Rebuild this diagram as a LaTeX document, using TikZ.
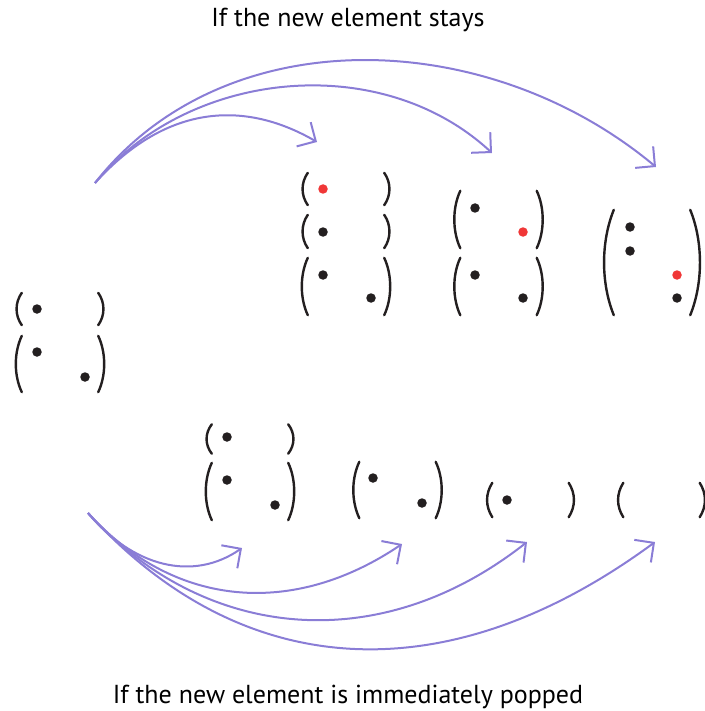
\documentclass[tikz,border=0pt]{standalone}
\usepackage{fontspec}
\setmainfont{PT Sans}
\usepackage{xcolor}
\usepackage{tikz}
\usetikzlibrary{positioning,arrows.meta}

\definecolor{ink}{RGB}{35,31,32}
\definecolor{pop}{RGB}{240,55,55}
\definecolor{arc}{RGB}{138,125,214}

\tikzset{
  paren/.style={draw=ink, line width=2.4pt, line cap=round},
  grp/.style={minimum width=76pt, minimum height=#1, inner sep=0pt},
  dot/.style={circle, fill=ink, inner sep=0pt, minimum size=9.5pt},
  newdot/.style={dot, fill=pop},
  move/.style={draw=arc, line width=2pt, -{Straight Barb[length=14pt,width=28pt]}},
  lbl/.style={anchor=base, inner sep=0pt, font=\fontsize{26}{30}\selectfont}
}

% both round brackets of one group: bulge, vertical pull
\newcommand{\brackets}[3]{%
  \draw[paren] (#1.north west) .. controls +(-#2,-#3) and +(-#2,#3) .. (#1.south west);
  \draw[paren] (#1.north east) .. controls +(#2,-#3) and +(#2,#3) .. (#1.south east);
}

\begin{document}
\begin{tikzpicture}[x=1pt,y=1pt]
    \useasboundingbox (0,0) rectangle (704,-711);

    \node[lbl] (stays) at (348,-27) {If the new element stays};
    \node[lbl] (popped) at (348,-703) {If the new element is immediately popped};

    % left stack
    \node[grp=32pt] (L1) at (60,-309) {};
    \node[grp=56pt] (L2) at (60,-364) {};
    \brackets{L1}{7}{10}
    \brackets{L2}{8}{17}
    \node[dot] (l1a) at (37,-309) {};
    \node[dot] (l2a) at (37,-352) {};
    \node[dot] (l2b) at (85,-377) {};

    % stays, col 1
    \node[grp=32pt] (T1a) at (346,-189) {};
    \node[grp=33pt] (T1b) at (346,-231.5) {};
    \node[grp=57pt] (T1c) at (346,-286.5) {};
    \brackets{T1a}{7}{10}
    \brackets{T1b}{7}{10}
    \brackets{T1c}{8}{17}
    \node[newdot] (t1a) at (323,-189) {};
    \node[dot] (t1b) at (323,-232) {};
    \node[dot] (t1c) at (323,-275) {};
    \node[dot] (t1d) at (371,-298) {};
    % stays, col 2
    \node[grp=57pt] (T2a) at (498.5,-219.5) {};
    \node[grp=57pt] (T2b) at (498.5,-286.5) {};
    \brackets{T2a}{8}{17}
    \brackets{T2b}{8}{17}
    \node[dot] (t2a) at (475,-208) {};
    \node[newdot] (t2b) at (523,-232) {};
    \node[dot] (t2c) at (475,-275) {};
    \node[dot] (t2d) at (523,-298) {};
    % stays, col 3
    \node[grp=105pt] (T3) at (652,-262.5) {};
    \brackets{T3}{13}{32}
    \node[dot] (t3a) at (630,-227) {};
    \node[dot] (t3b) at (630,-251) {};
    \node[newdot] (t3c) at (677,-275) {};
    \node[dot] (t3d) at (677,-298) {};

    % popped, col 1
    \node[grp=29pt] (B1a) at (250,-439) {};
    \node[grp=57pt] (B1b) at (250,-491.5) {};
    \brackets{B1a}{7}{9}
    \brackets{B1b}{8}{17}
    \node[dot] (b1a) at (227,-437) {};
    \node[dot] (b1b) at (227,-480) {};
    \node[dot] (b1c) at (275,-505) {};
    % popped, col 2
    \node[grp=56pt] (B2) at (397.5,-490) {};
    \brackets{B2}{8}{17}
    \node[dot] (b2a) at (373,-478) {};
    \node[dot] (b2b) at (422,-503) {};
    % popped, col 3
    \node[grp=34pt] (B3) at (530.5,-500) {};
    \brackets{B3}{7}{11}
    \node[dot] (b3a) at (507,-500) {};
    % popped, col 4
    \node[grp=34pt] (B4) at (661.5,-500) {};
    \brackets{B4}{7}{11}

    % arrows
    \coordinate (up) at (95,-183);
    \coordinate (s1) at (317,-142);
    \coordinate (s2) at (492,-153);
    \coordinate (s3) at (656,-167);
    \draw[move] (up) .. controls +(74,82) and +(-69,40) .. (s1);
    \draw[move] (up) .. controls +(96,115) and +(-110,102) .. (s2);
    \draw[move] (up) .. controls +(129,165) and +(-169,141) .. (s3);

    \coordinate (down) at (88,-513);
    \coordinate (p1) at (242,-548);
    \coordinate (p2) at (402,-544);
    \coordinate (p3) at (527,-542);
    \coordinate (p4) at (655,-542);
    \draw[move] (down) .. controls +(45,-54) and +(-49,-34) .. (p1);
    \draw[move] (down) .. controls +(87,-96) and +(-108,-73) .. (p2);
    \draw[move] (down) .. controls +(114,-126) and +(-150,-118) .. (p3);
    \draw[move] (down) .. controls +(154,-170) and +(-208,-153) .. (p4);
\end{tikzpicture}
\end{document}
